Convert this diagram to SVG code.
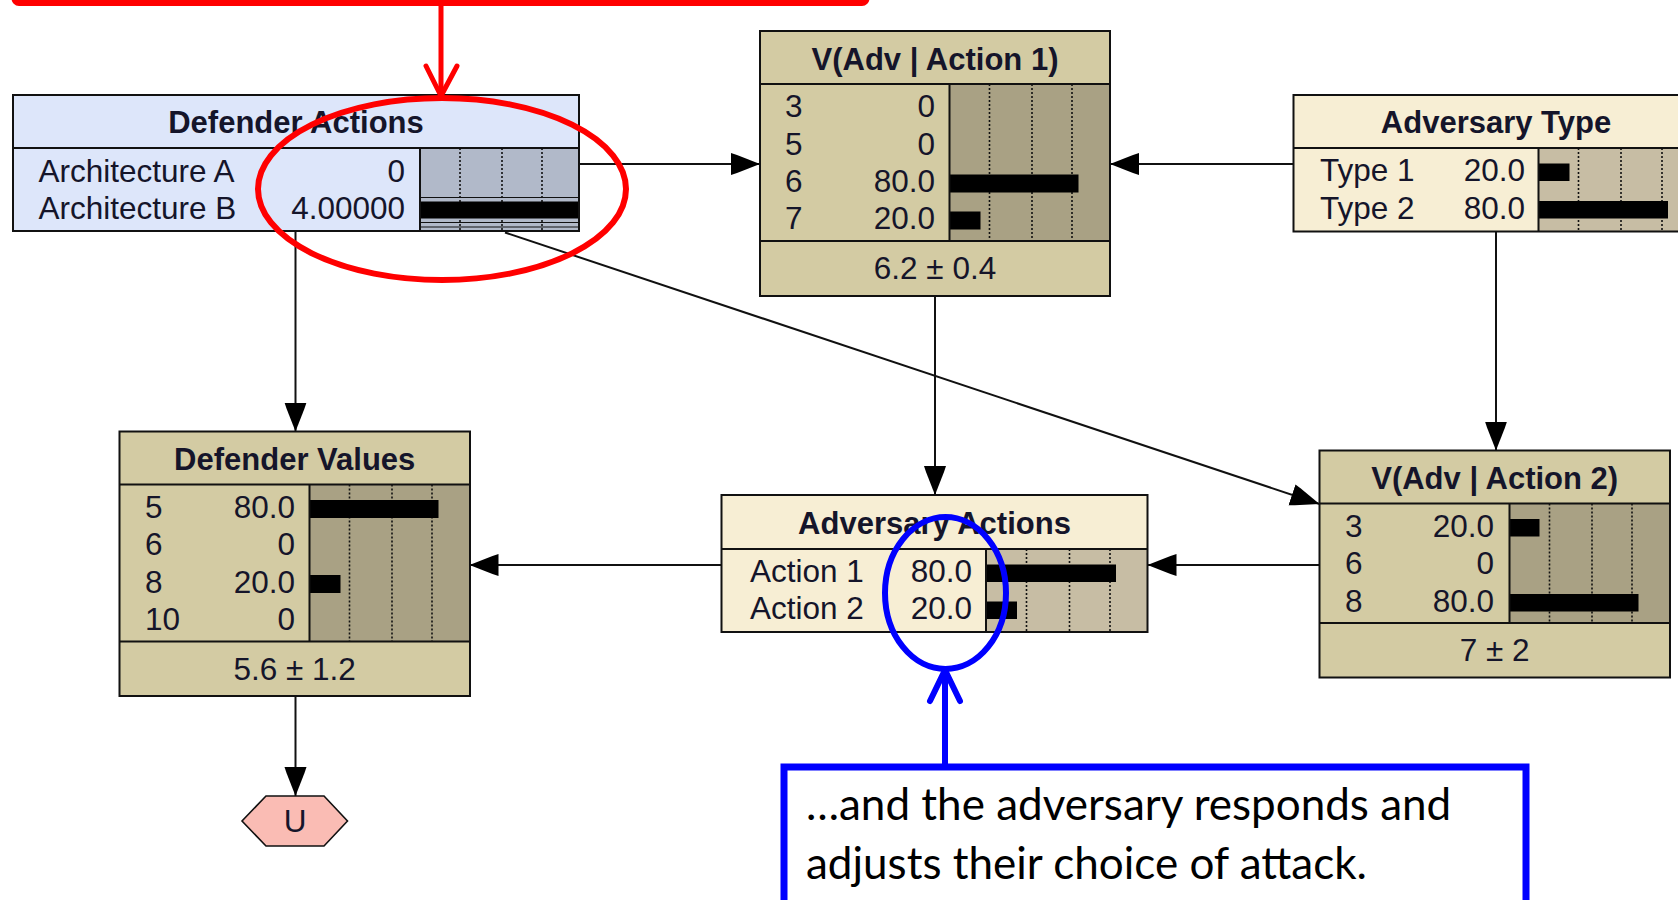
<svg xmlns="http://www.w3.org/2000/svg" width="1678" height="900" viewBox="0 0 1678 900">
<style>
.ln{fill:none;stroke:#111;stroke-width:2}
.blue{fill:#dde6fa}
.bluebar{fill:#b1b9c9}
.tan{fill:#d3cba3}
.tanbar{fill:#a9a184}
.cream{fill:#f7eed4}
.creambar{fill:#c7bda4}
.grid{fill:none;stroke:#111;stroke-width:1.6;stroke-dasharray:2 2}
.bar{fill:#000}
.hd{font-family:"Liberation Sans",Arial,sans-serif;font-weight:bold;font-size:31px;text-anchor:middle;fill:#15152a}
.tx{font-family:"Liberation Sans",Arial,sans-serif;font-size:31.5px;fill:#15152a}
.val{text-anchor:end}
.mid{text-anchor:middle}
.edge{fill:none;stroke:#111;stroke-width:2;marker-end:url(#ah)}
.red{fill:none;stroke:#ff0000;stroke-linecap:round;stroke-linejoin:round}
.blu{fill:none;stroke:#0000ff;stroke-linecap:round;stroke-linejoin:round}
.note{font-family:Lato,"Liberation Sans",sans-serif;font-size:44px;fill:#000}
</style>
<defs>
<marker id="ah" markerUnits="userSpaceOnUse" markerWidth="30" markerHeight="24" refX="29" refY="12" orient="auto">
<path d="M0,1 L6,3 L29,12 L6,21 L0,23 Z" fill="#000"/>
</marker>
</defs>
<rect width="1678" height="900" fill="#fff"/>

<!-- links between nodes -->
<g id="connectors">
<path class="edge" d="M579,164H760"/>
<path class="edge" d="M1293.5,164H1110"/>
<path class="edge" d="M295.5,231V431.5"/>
<path class="edge" d="M935,296V495"/>
<path class="edge" d="M1496,231.5V450.5"/>
<path class="edge" d="M505,232.5L1319.5,504"/>
<path class="edge" d="M721.5,565H469.5"/>
<path class="edge" d="M1319.5,565H1147.5"/>
<path class="edge" d="M295.5,696V796"/>
</g>

<!-- decision node -->
<g id="defender-actions">
<rect x="13" y="95" width="566" height="136" class="blue"/>
<rect x="420" y="148" width="159" height="83" class="bluebar"/>
<path class="grid" d="M460,148V231M502,148V231M542,148V231"/>
<rect class="bar" x="420" y="201.5" width="159" height="17"/>
<path d="M420,197.5H579M420,222.5H579M420,227H579" stroke="#111" stroke-width="1.2"/>
<path class="ln" d="M13,95H579V231H13ZM13,148H579M420,148V231"/>
<text class="hd" x="296" y="133">Defender Actions</text>
<text class="tx" x="38.5" y="181.5">Architecture A</text>
<text class="tx val" x="405" y="181.5">0</text>
<text class="tx" x="38.5" y="218.5">Architecture B</text>
<text class="tx val" x="405" y="218.5">4.00000</text>
</g>

<g id="v-adv-action-1">
<rect x="760" y="31" width="350" height="265" class="tan"/>
<rect x="949.5" y="84" width="160.5" height="157" class="tanbar"/>
<path class="grid" d="M989.5,84V241M1032,84V241M1072,84V241"/>
<rect class="bar" x="949.5" y="174.5" width="129" height="18"/>
<rect class="bar" x="949.5" y="211.5" width="31" height="18"/>
<path class="ln" d="M760,31H1110V296H760ZM760,84H1110M760,241H1110M949.5,84V241"/>
<text class="hd" x="935" y="70">V(Adv | Action 1)</text>
<text class="tx" x="785" y="117">3</text><text class="tx val" x="935" y="117">0</text>
<text class="tx" x="785" y="154.5">5</text><text class="tx val" x="935" y="154.5">0</text>
<text class="tx" x="785" y="192">6</text><text class="tx val" x="935" y="192">80.0</text>
<text class="tx" x="785" y="229">7</text><text class="tx val" x="935" y="229">20.0</text>
<text class="tx mid" x="935" y="279">6.2 ± 0.4</text>
</g>

<g id="adversary-type">
<rect x="1293.5" y="95" width="405" height="136.5" class="cream"/>
<rect x="1538.5" y="148" width="160" height="83.5" class="creambar"/>
<path class="grid" d="M1578.5,148V231.5M1621,148V231.5M1662,148V231.5"/>
<rect class="bar" x="1538.5" y="163.5" width="31" height="17.5"/>
<rect class="bar" x="1538.5" y="201" width="129.5" height="17.5"/>
<path class="ln" d="M1293.5,95H1698V231.5H1293.5ZM1293.5,148H1698M1538.5,148V231.5"/>
<text class="hd" x="1496" y="133">Adversary Type</text>
<text class="tx" x="1320" y="181">Type 1</text><text class="tx val" x="1525" y="181">20.0</text>
<text class="tx" x="1320" y="218.5">Type 2</text><text class="tx val" x="1525" y="218.5">80.0</text>
</g>

<g id="defender-values">
<rect x="119.5" y="431.5" width="350.5" height="264.5" class="tan"/>
<rect x="309.5" y="484.5" width="160.5" height="157" class="tanbar"/>
<path class="grid" d="M349.5,484.5V641.5M392,484.5V641.5M432,484.5V641.5"/>
<rect class="bar" x="309.5" y="500" width="129" height="18"/>
<rect class="bar" x="309.5" y="575" width="31" height="18"/>
<path class="ln" d="M119.5,431.5H470V696H119.5ZM119.5,484.5H470M119.5,641.5H470M309.5,484.5V641.5"/>
<text class="hd" x="294.7" y="470">Defender Values</text>
<text class="tx" x="145" y="517.5">5</text><text class="tx val" x="295" y="517.5">80.0</text>
<text class="tx" x="145" y="555">6</text><text class="tx val" x="295" y="555">0</text>
<text class="tx" x="145" y="592.5">8</text><text class="tx val" x="295" y="592.5">20.0</text>
<text class="tx" x="145" y="630">10</text><text class="tx val" x="295" y="630">0</text>
<text class="tx mid" x="294.7" y="679.5">5.6 ± 1.2</text>
</g>

<g id="adversary-actions">
<rect x="721.5" y="495" width="426" height="137" class="cream"/>
<rect x="986" y="549" width="161.5" height="83" class="creambar"/>
<path class="grid" d="M1026.5,549V632M1069.5,549V632M1110,549V632"/>
<rect class="bar" x="986" y="564.5" width="130" height="17.5"/>
<rect class="bar" x="986" y="601.5" width="31" height="17.5"/>
<path class="ln" d="M721.5,495H1147.5V632H721.5ZM721.5,549H1147.5M986,549V632"/>
<text class="hd" x="934.5" y="533.5">Adversary Actions</text>
<text class="tx" x="750" y="582">Action 1</text><text class="tx val" x="972" y="582">80.0</text>
<text class="tx" x="750" y="619">Action 2</text><text class="tx val" x="972" y="619">20.0</text>
</g>

<g id="v-adv-action-2">
<rect x="1319.5" y="450.5" width="350.5" height="227" class="tan"/>
<rect x="1509.5" y="503.5" width="160.5" height="119.5" class="tanbar"/>
<path class="grid" d="M1549.5,503.5V623M1592,503.5V623M1632,503.5V623"/>
<rect class="bar" x="1509.5" y="519" width="30" height="17.5"/>
<rect class="bar" x="1509.5" y="594" width="129" height="17.5"/>
<path class="ln" d="M1319.5,450.5H1670V677.5H1319.5ZM1319.5,503.5H1670M1319.5,623H1670M1509.5,503.5V623"/>
<text class="hd" x="1494.7" y="489">V(Adv | Action 2)</text>
<text class="tx" x="1345" y="536.5">3</text><text class="tx val" x="1494" y="536.5">20.0</text>
<text class="tx" x="1345" y="574">6</text><text class="tx val" x="1494" y="574">0</text>
<text class="tx" x="1345" y="611.5">8</text><text class="tx val" x="1494" y="611.5">80.0</text>
<text class="tx mid" x="1494.7" y="661">7 ± 2</text>
</g>

<!-- utility node -->
<g id="utility-u">
<polygon points="266,796 324,796 347.5,821 324,846 266,846 242,821" fill="#fabcb4" stroke="#111" stroke-width="1.6"/>
<text class="tx mid" x="295" y="831.5">U</text>
</g>

<!-- red callout pointing at the defender's choice -->
<g id="callout-red">
<rect x="15" y="-60" width="851" height="62.5" rx="4" class="red" stroke-width="7"/>
<path class="red" stroke-width="5" d="M441,6V95"/>
<path class="red" stroke-width="5" d="M426,66L441,96L457,66"/>
<ellipse cx="442" cy="189" rx="184" ry="91" class="red" stroke-width="6"/>
</g>

<!-- blue callout pointing at the adversary's response -->
<g id="callout-blue">
<ellipse cx="945.5" cy="593" rx="60.5" ry="76" class="blu" stroke-width="6"/>
<path class="blu" stroke-width="6" d="M945,765V672"/>
<path class="blu" stroke-width="6" d="M930,701L945,670L960,701"/>
<rect x="784" y="767" width="742" height="170" fill="#fff" stroke="#0000ff" stroke-width="7"/>
<text class="note" x="806" y="819.5">…and the adversary responds and</text>
<text class="note" x="806" y="878.5">adjusts their choice of attack.</text>
</g>
</svg>
